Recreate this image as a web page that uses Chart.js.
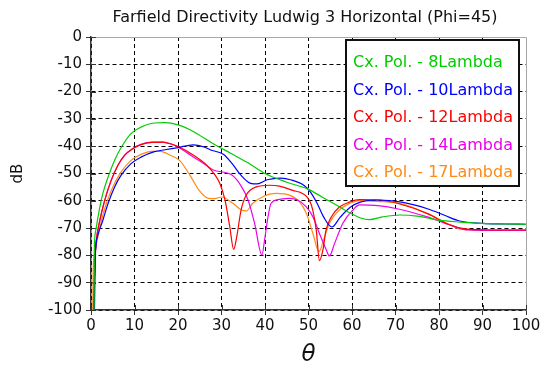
<!DOCTYPE html>
<html lang="en">
<head>
<meta charset="UTF-8">
<title>Farfield Directivity Ludwig 3 Horizontal (Phi=45)</title>
<script src="https://cdn.jsdelivr.net/npm/chart.js@4"></script>
<style>
    html, body { margin: 0; padding: 0; background: #fff; }
    #wrap { width: 544px; height: 367px; }
</style>
</head>
<body>
<div id="wrap"><canvas id="farfield"></canvas></div>
<script>
// cross-pol directivity, theta in degrees / level in dB, one pair per antenna length
const theta8 = [0.7, 0.75, 0.85, 1.2, 1.6, 2.7, 3.9, 5.4, 7, 9.2, 11.5, 14.6, 17, 20, 23.5, 28, 32, 36, 40, 45, 50, 53, 56, 59, 62, 64, 67, 71, 75, 80, 85, 90, 95, 100];
const db8 = [-100, -80, -74, -70, -66, -57.5, -51.4, -45.2, -40.3, -35.4, -33, -31.5, -31.4, -32.2, -34.6, -39, -42.5, -46, -50, -53.2, -55.8, -58.5, -61.2, -64, -66.3, -66.9, -65.9, -65.2, -65.6, -67.1, -67.8, -68.3, -68.5, -68.6];

const theta10 = [0.8, 1, 1.5, 2.7, 3.9, 5.4, 6.9, 9.2, 11.5, 14.6, 17, 20, 23.5, 26, 27.7, 30.5, 32.5, 34.4, 36.7, 38.2, 40.5, 43.6, 45.9, 49, 50.5, 52, 53.5, 55.4, 57.3, 59.6, 61.9, 66, 71.4, 77.5, 81.4, 84.5, 90, 95, 100];
const db10 = [-100, -80, -73, -67.3, -61.1, -55, -50.7, -46.4, -44, -42, -41.3, -40.5, -39.5, -40.3, -41.5, -43, -46.5, -50.5, -53.6, -53.8, -52.3, -51.7, -52.3, -54.4, -56.9, -61, -66, -69.6, -66, -62.4, -60.5, -59.7, -60.5, -63, -65.4, -67.3, -68.3, -68.5, -68.6];

const theta12 = [0.6, 0.9, 1.2, 2, 3.1, 4.6, 6.2, 7.7, 9.6, 11.5, 14, 16.5, 18.5, 20.4, 23.3, 26.3, 28.4, 29.6, 30.8, 31.9, 32.8, 33.5, 34.5, 35.7, 38, 41, 43.3, 46.4, 48.7, 50.2, 51, 51.8, 52.5, 53.3, 54, 55.2, 57.1, 59.4, 61.7, 66, 70.6, 77.5, 82, 86, 90, 95, 100];
const db12 = [-100, -82, -75, -67.3, -60, -52.6, -47, -43.4, -40.9, -39.4, -38.6, -38.5, -39.2, -40.4, -43, -46.5, -50.3, -53.6, -59.7, -69.5, -77.8, -73.2, -63.4, -57.9, -54.9, -54.3, -54.6, -56.2, -57.4, -59.8, -63.5, -70.9, -81.9, -78.2, -70.9, -66, -62.3, -60.5, -59.6, -59.7, -61, -64.8, -68.5, -70.3, -70.6, -70.7, -70.7];

const theta14 = [0.6, 0.9, 1.2, 2, 3.1, 4.6, 6.2, 7.7, 9.6, 11.5, 14, 16.5, 18.5, 20, 23, 26, 28.1, 32.3, 34.6, 36.1, 37.6, 39.3, 39.9, 40.7, 41.4, 43.3, 45.6, 47.5, 49.5, 51, 52.5, 54.1, 54.8, 56, 57.9, 60.2, 61.7, 66, 70.6, 77.5, 82.9, 86.8, 90, 95, 100];
const db14 = [-100, -82, -75, -67.5, -60.2, -52.8, -47, -43.4, -40.9, -39.3, -38.5, -38.5, -39.3, -40.3, -43.4, -46.4, -48.7, -50.5, -54.8, -59.7, -68.2, -79.9, -74.4, -65.8, -60.9, -59.5, -59.1, -59.7, -62.2, -65.8, -71.9, -78, -80.2, -75.6, -68.2, -63.4, -61.5, -61.8, -63, -66, -69.1, -70.7, -70.8, -70.8, -70.8];

const theta17 = [0.4, 0.5, 0.9, 1.4, 2.4, 3.5, 5, 6.9, 9.2, 11.5, 14, 16, 18.2, 20.4, 22.7, 25, 27, 28.5, 30, 32.6, 34.6, 35.7, 37.2, 39.5, 42.6, 45.6, 47.9, 49.5, 51, 52.4, 53.7, 54.8, 57.1, 59, 61.7, 66, 71.4, 77.5, 82.1, 85.2, 90, 95, 100];
const db17 = [-100, -85, -79, -74.6, -67.3, -61.1, -55, -49.5, -45.2, -43, -41.9, -41.9, -43.3, -45.3, -50.5, -56.5, -59.1, -59.2, -58.6, -60.9, -63.4, -63.7, -60.9, -58.5, -57.3, -57.9, -60.3, -64.6, -71.9, -78.6, -73.2, -68.2, -63.4, -61.3, -59.9, -60.2, -61.1, -64.8, -68.5, -70.5, -70.7, -70.7, -70.7];

const seriesLabels = ['Cx. Pol. - 8Lambda', 'Cx. Pol. - 10Lambda', 'Cx. Pol. - 12Lambda', 'Cx. Pol. - 14Lambda', 'Cx. Pol. - 17Lambda'];
const seriesColors = ['#00cc00', '#0000ff', '#ff0000', '#ee00ee', '#ff8a14'];
const seriesTheta = [theta8, theta10, theta12, theta14, theta17];
const seriesDb = [db8, db10, db12, db14, db17];

const thetaRange = [0, 100];
const dbRange = [-100, 0];
const tickStep = 10;

const chartTitle = 'Farfield Directivity Ludwig 3 Horizontal (Phi=45)';

const datasets = seriesLabels.map((label, i) => ({
    label: label,
    data: seriesTheta[i].map((t, j) => ({ x: t, y: seriesDb[i][j] })),
    borderColor: seriesColors[i],
    backgroundColor: seriesColors[i],
    borderWidth: 1.2,
    pointRadius: 0,
    cubicInterpolationMode: 'monotone',
    fill: false
}));

// title, plot frame, inner tick marks and the boxed legend
const decorations = {
    id: 'decorations',
    beforeDatasetsDraw(chart) {
        const { ctx, chartArea: a } = chart;
        ctx.save();
        ctx.strokeStyle = '#a8a8a8';
        ctx.lineWidth = 1;
        ctx.beginPath();
        ctx.moveTo(a.left, a.top + 0.5);
        ctx.lineTo(a.right + 0.5, a.top + 0.5);
        ctx.lineTo(a.right + 0.5, a.bottom);
        ctx.stroke();

        // short marks on the inner side of both axes
        ctx.strokeStyle = '#333';
        ctx.beginPath();
        chart.scales.x.ticks.forEach(t => {
            const px = Math.round(chart.scales.x.getPixelForValue(t.value)) + 0.5;
            ctx.moveTo(px, a.bottom);
            ctx.lineTo(px, a.bottom - 5);
        });
        chart.scales.y.ticks.forEach(t => {
            const py = Math.round(chart.scales.y.getPixelForValue(t.value)) + 0.5;
            ctx.moveTo(a.left, py);
            ctx.lineTo(a.left + 5, py);
        });
        ctx.stroke();
        ctx.restore();
    },
    afterDraw(chart) {
        const ctx = chart.ctx;
        ctx.save();
        ctx.fillStyle = '#111';
        ctx.font = '16px "DejaVu Sans"';
        ctx.textAlign = 'center';
        ctx.textBaseline = 'middle';
        ctx.fillText(chartTitle, 305, 18);

        const bx = 346, by = 40, bw = 173, bh = 146;
        ctx.fillStyle = '#fff';
        ctx.fillRect(bx, by, bw, bh);
        ctx.lineWidth = 2;
        ctx.strokeStyle = '#111';
        ctx.strokeRect(bx, by, bw, bh);

        ctx.font = '16px "DejaVu Sans"';
        ctx.textAlign = 'left';
        chart.data.datasets.forEach((ds, i) => {
            ctx.fillStyle = ds.borderColor;
            ctx.fillText(ds.label, bx + 7, by + 23 + i * 27.5);
        });
        ctx.restore();
    }
};

const gridColor = edge => ctx => (ctx.tick && ctx.tick.value === edge ? 'rgba(0,0,0,0)' : '#000');

new Chart(document.getElementById('farfield'), {
    type: 'line',
    data: { datasets: datasets },
    options: {
        responsive: true,
        maintainAspectRatio: false,
        animation: false,
        events: [],
        layout: { padding: { top: 37, right: 18, left: 0, bottom: 0 } },
        plugins: {
            legend: { display: false },
            tooltip: { enabled: false },
            title: { display: false }
        },
        scales: {
            x: {
                type: 'linear',
                min: thetaRange[0],
                max: thetaRange[1],
                ticks: {
                    stepSize: tickStep,
                    color: '#111',
                    padding: 2,
                    maxRotation: 0,
                    font: { family: 'DejaVu Sans', size: 15 }
                },
                grid: {
                    color: gridColor(thetaRange[1]),
                    lineWidth: 1,
                    tickLength: 5,
                    tickColor: '#333',
                    tickWidth: 1
                },
                border: { color: '#333', width: 1.5, dash: [4, 3] },
                title: {
                    display: true,
                    text: 'θ',
                    color: '#111',
                    font: { family: 'DejaVu Sans', size: 23, style: 'italic', lineHeight: 1 },
                    padding: { top: 0, bottom: 0 }
                },
                afterFit(scale) { scale.height = 57; }
            },
            y: {
                type: 'linear',
                min: dbRange[0],
                max: dbRange[1],
                ticks: {
                    stepSize: tickStep,
                    color: '#111',
                    padding: 4,
                    font: { family: 'DejaVu Sans', size: 15 }
                },
                grid: {
                    color: gridColor(dbRange[1]),
                    lineWidth: 1,
                    tickLength: 5,
                    tickColor: '#333',
                    tickWidth: 1
                },
                border: { color: '#333', width: 1.5, dash: [4, 3] },
                title: {
                    display: true,
                    text: 'dB',
                    color: '#111',
                    font: { family: 'DejaVu Sans', size: 15 },
                    padding: { top: 9, bottom: 0 }
                },
                afterFit(scale) { scale.width = 91; }
            }
        }
    },
    plugins: [decorations]
});
</script>
</body>
</html>
